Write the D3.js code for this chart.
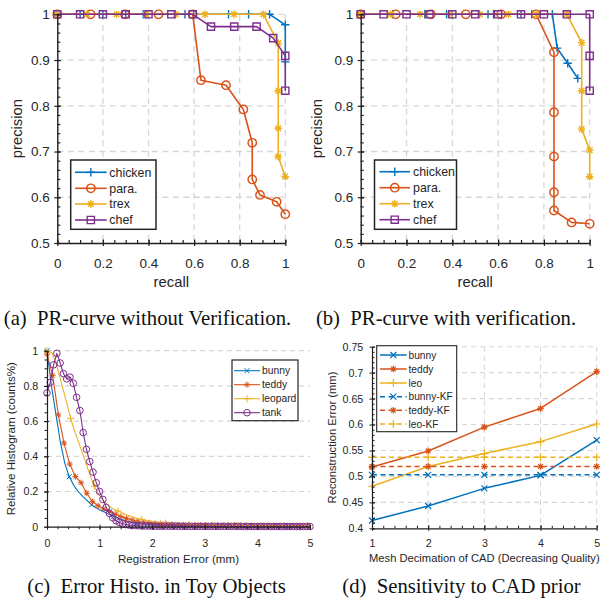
<!DOCTYPE html>
<html><head><meta charset="utf-8">
<script src="https://cdn.jsdelivr.net/npm/d3@7"></script>
<style>body{margin:0;background:#fff}svg{display:block}</style>
</head><body>
<svg id="chart" width="600" height="602"></svg>
<script>
// ---------------- DATA ----------------
// (a) PR-curve without verification
const prNames = ["chicken", "para.", "trex", "chef"];
const chickenA_recall = [0, 0.1, 0.2, 0.3, 0.377, 0.392, 0.516, 0.56, 0.598, 0.751, 0.839, 0.931, 1.0, 1.0];
const chickenA_prec   = [1, 1, 1, 1, 1, 1, 1, 1, 1, 1, 1, 1, 0.977, 0.896];
const paraA_recall = [0, 0.146, 0.297, 0.444, 0.594, 0.63, 0.74, 0.816, 0.855, 0.855, 0.889, 0.962, 1.0];
const paraA_prec   = [1, 1, 1, 1, 1, 0.856, 0.845, 0.792, 0.719, 0.639, 0.605, 0.590, 0.563];
const trexA_recall = [0, 0.13, 0.26, 0.39, 0.52, 0.648, 0.775, 0.904, 0.969, 0.969, 0.969, 0.969, 1.0];
const trexA_prec   = [1, 1, 1, 1, 1, 1, 1, 1, 0.937, 0.833, 0.751, 0.689, 0.645];
const chefA_recall = [0, 0.1, 0.2, 0.3, 0.4, 0.5, 0.594, 0.674, 0.776, 0.874, 0.947, 1.0, 1.0];
const chefA_prec   = [1, 1, 1, 1, 1, 1, 1, 0.973, 0.973, 0.973, 0.948, 0.909, 0.833];

// (b) PR-curve with verification
const chickenB_recall = [0, 0.14, 0.28, 0.375, 0.4, 0.556, 0.58, 0.7, 0.747, 0.837, 0.858, 0.904, 0.948];
const chickenB_prec   = [1, 1, 1, 1, 1, 1, 1, 1, 1, 1, 0.926, 0.893, 0.860];
const paraB_recall = [0, 0.153, 0.306, 0.459, 0.613, 0.766, 0.844, 0.844, 0.844, 0.844, 0.844, 0.921, 1.0];
const paraB_prec   = [1, 1, 1, 1, 1, 1, 0.917, 0.786, 0.689, 0.611, 0.571, 0.545, 0.542];
const trexB_recall = [0, 0.131, 0.259, 0.39, 0.52, 0.645, 0.77, 0.9, 0.965, 0.965, 0.965, 1.0, 1.0];
const trexB_prec   = [1, 1, 1, 1, 1, 1, 1, 1, 0.938, 0.833, 0.749, 0.703, 0.645];
const chefB_recall = [0, 0.1, 0.2, 0.3, 0.4, 0.5, 0.6, 0.7, 0.8, 0.9, 1.0, 1.0, 1.0];
const chefB_prec   = [1, 1, 1, 1, 1, 1, 1, 1, 1, 1, 1, 0.909, 0.833];

const prTicksX = [0, 0.2, 0.4, 0.6, 0.8, 1];
const prTicksY = [0.5, 0.6, 0.7, 0.8, 0.9, 1];

// (c) Error histogram in toy objects (bin width per object, values per bin)
const histNames = ["bunny", "teddy", "leopard", "tank"];
const bunnyBin = 5 / 59;
const bunnyHist = [1.00,0.80,0.64,0.48,0.36,0.284,0.235,0.20,0.172,0.148,
  0.125,0.108,0.094,0.082,0.070,0.059,0.049,0.040,0.032,0.026,
  0.021,0.017,0.014,0.012,0.011,0.010,0.009,0.009,0.008,0.008,
  0.007,0.007,0.007,0.006,0.006,0.006,0.006,0.005,0.005,0.005,
  0.005,0.005,0.004,0.004,0.004,0.004,0.004,0.004,0.004,0.003,
  0.003,0.003,0.003,0.003,0.003,0.003,0.003,0.003,0.003,0.003];
const teddyBin = 0.108;
const teddyHist = [0.98,0.86,0.635,0.475,0.356,0.285,0.25,0.19,0.142,0.119,
  0.10,0.087,0.072,0.058,0.047,0.038,0.031,0.026,0.022,0.019,
  0.017,0.015,0.013,0.012,0.011,0.010,0.010,0.009,0.009,0.008,
  0.008,0.008,0.007,0.007,0.007,0.007,0.006,0.006,0.006,0.006,
  0.006,0.005,0.005,0.005,0.005,0.005,0.005];
const leopardBin = 0.09;
const leopardHist = [1.00,0.99,0.92,0.82,0.72,0.615,0.53,0.455,0.38,0.30,
  0.23,0.18,0.145,0.12,0.10,0.089,0.076,0.065,0.056,0.048,
  0.042,0.036,0.031,0.027,0.024,0.021,0.019,0.017,0.015,0.014,
  0.013,0.012,0.011,0.010,0.010,0.009,0.009,0.008,0.008,0.008,
  0.007,0.007,0.007,0.006,0.006,0.006,0.006,0.006,0.005,0.005,
  0.005,0.005,0.005,0.005,0.005,0.005];
const tankBin = 0.0625;
const tankHist = [0.76,0.82,0.92,0.985,0.93,0.87,0.84,0.85,0.815,0.735,
  0.66,0.535,0.44,0.37,0.31,0.25,0.20,0.155,0.11,0.075,
  0.05,0.034,0.024,0.017,0.012,0.009,0.007,0.006,0.005,0.004,
  0.004,0.004,0.003,0.003,0.003,0.003,0.003,0.003,0.003,0.003,
  0.002,0.002,0.002,0.002,0.002,0.002,0.002,0.002,0.002,0.002,
  0.002,0.002,0.002,0.002,0.002,0.002,0.002,0.002,0.002,0.002,
  0.001,0.001,0.001,0.001,0.001,0.001,0.001,0.001,0.001,0.001,
  0.001,0.001,0.001,0.001,0.001,0.001,0.001,0.001,0.001,0.001,
  0.001];
const histTicksX = [0, 1, 2, 3, 4, 5];
const histTicksY = [0, 0.2, 0.4, 0.6, 0.8, 1];

// (d) Sensitivity to CAD prior
const cadNames = ["bunny", "teddy", "leo", "bunny-KF", "teddy-KF", "leo-KF"];
const decimation = [1, 2, 3, 4, 5];
const bunnyErr   = [0.415, 0.443, 0.477, 0.502, 0.570];
const teddyErr   = [0.518, 0.549, 0.595, 0.631, 0.702];
const leoErr     = [0.481, 0.519, 0.544, 0.567, 0.601];
const bunnyKFErr = [0.503, 0.503, 0.503, 0.503, 0.503];
const teddyKFErr = [0.519, 0.519, 0.519, 0.519, 0.519];
const leoKFErr   = [0.537, 0.537, 0.537, 0.537, 0.537];
const cadTicksX = [1, 2, 3, 4, 5];
const cadTicksY = [0.4, 0.45, 0.5, 0.55, 0.6, 0.65, 0.7, 0.75];

const captions = ["(a)\u2002PR-curve without Verification.", "(b)\u2002PR-curve with verification.",
                  "(c)\u2002Error Histo. in Toy Objects", "(d)\u2002Sensitivity to CAD prior"];

// ---------------- STYLE ----------------
const C = {blue: "#0072BD", orange: "#D95319", yellow: "#EDB120", purple: "#7E2F8E"};
const SANS = "'Liberation Sans', Arial, Helvetica, sans-serif";
const SERIF = "'Liberation Serif', 'Times New Roman', serif";
const GRID = "#d6d6d6";
const AXIS = "#1f1f1f";

const svg = d3.select("#chart");

function sym(type, r) {
  switch (type) {
    case "plus": return `M${-r},0H${r}M0,${-r}V${r}`;
    case "x": return `M${-r},${-r}L${r},${r}M${-r},${r}L${r},${-r}`;
    case "star": { const d = r * 0.72; return `M${-r},0H${r}M0,${-r}V${r}M${-d},${-d}L${d},${d}M${-d},${d}L${d},${-d}`; }
    case "circle": return `M${r},0A${r},${r} 0 1,1 ${-r},0A${r},${r} 0 1,1 ${r},0Z`;
    case "square": return `M${-r},${-r}H${r}V${r}H${-r}Z`;
  }
}
const range = (a, b, s) => d3.range(Math.round((b - a) / s) + 1).map(i => +(a + i * s).toFixed(4));
const fmt = d => String(+d.toFixed(2));

function drawPanel(P) {
  const g = svg.append("g");
  const x = d3.scaleLinear().domain(P.xDomain).range([P.l, P.r]);
  const y = d3.scaleLinear().domain(P.yDomain).range([P.b, P.t]);

  // grid
  g.selectAll(null).data(P.xGrid).join("line")
    .attr("x1", d => x(d)).attr("x2", d => x(d)).attr("y1", P.t).attr("y2", P.b)
    .attr("stroke", GRID).attr("stroke-width", P.gridW).attr("stroke-dasharray", P.gridDash);
  g.selectAll(null).data(P.yGrid).join("line")
    .attr("y1", d => y(d)).attr("y2", d => y(d)).attr("x1", P.l).attr("x2", P.r)
    .attr("stroke", GRID).attr("stroke-width", P.gridW).attr("stroke-dasharray", P.gridDash);

  // series
  P.series.forEach(s => {
    const pts = s.x.map((v, i) => [v, s.y[i]]);
    g.append("path")
      .attr("d", d3.line().x(d => x(d[0])).y(d => y(d[1]))(pts))
      .attr("fill", "none").attr("stroke", s.color).attr("stroke-width", P.lineW)
      .attr("stroke-dasharray", s.dash || null).attr("stroke-linejoin", "round");
    const every = s.every || 1;
    g.selectAll(null).data(pts.filter((d, i) => i % every === 0)).join("path")
      .attr("transform", d => `translate(${x(d[0])},${y(d[1])})`)
      .attr("d", sym(s.marker, P.mr[s.marker]))
      .attr("fill", "none").attr("stroke", s.color).attr("stroke-width", P.markW);
  });

  // axes
  const xa = g.append("g").attr("transform", `translate(0,${P.b})`);
  xa.call(d3.axisBottom(x).tickValues(P.xTicks).tickSizeInner(P.majOut).tickSizeOuter(0)
    .tickPadding(P.xLabOff - P.majOut - 0.71 * P.tickFs).tickFormat(fmt));
  xa.append("g").call(d3.axisBottom(x).tickValues(P.xTicks).tickSize(-P.majIn).tickFormat(""))
    .select(".domain").remove();
  xa.append("g").call(d3.axisBottom(x).tickValues(P.xMinor).tickSize(P.minorIn ? -P.minLen : P.minLen).tickFormat(""))
    .select(".domain").remove();
  const ya = g.append("g").attr("transform", `translate(${P.l},0)`);
  ya.call(d3.axisLeft(y).tickValues(P.yTicks).tickSizeInner(P.majOut).tickSizeOuter(0)
    .tickPadding(P.yLabOff - P.majOut).tickFormat(fmt));
  ya.append("g").call(d3.axisLeft(y).tickValues(P.yTicks).tickSize(-P.majIn).tickFormat(""))
    .select(".domain").remove();
  ya.append("g").call(d3.axisLeft(y).tickValues(P.yMinor).tickSize(P.minorIn ? -P.minLen : P.minLen).tickFormat(""))
    .select(".domain").remove();
  [xa, ya].forEach(a => {
    a.selectAll("path.domain").attr("stroke", AXIS).attr("stroke-width", P.axisW);
    a.selectAll("line").attr("stroke", AXIS).attr("stroke-width", P.axisW * 0.85);
    a.selectAll("text").attr("font-family", SANS).attr("font-size", P.tickFs).attr("fill", "#262626");
  });

  // axis labels
  g.append("text").attr("x", (P.l + P.r) / 2).attr("y", P.xTitleY).attr("text-anchor", "middle")
    .attr("font-family", SANS).attr("font-size", P.labFs).attr("fill", "#262626").text(P.xTitle);
  g.append("text").attr("transform", `translate(${P.yTitleX},${(P.t + P.b) / 2}) rotate(-90)`)
    .attr("text-anchor", "middle").attr("font-family", SANS).attr("font-size", P.labFs)
    .attr("fill", "#262626").text(P.yTitle);

  // legend
  const L = P.legend;
  const lg = g.append("g");
  lg.append("rect").attr("x", L.x0).attr("y", L.y0).attr("width", L.x1 - L.x0).attr("height", L.y1 - L.y0)
    .attr("fill", "#fff").attr("stroke", L.stroke).attr("stroke-width", L.sw);
  P.series.forEach((s, i) => {
    const yy = L.rows[i];
    lg.append("line").attr("x1", L.lx0).attr("x2", L.lx1).attr("y1", yy).attr("y2", yy)
      .attr("stroke", s.color).attr("stroke-width", P.lineW).attr("stroke-dasharray", s.dash || null);
    lg.append("path").attr("transform", `translate(${(L.lx0 + L.lx1) / 2},${yy})`)
      .attr("d", sym(s.marker, P.mr[s.marker])).attr("fill", "none")
      .attr("stroke", s.color).attr("stroke-width", P.markW);
    lg.append("text").attr("x", L.tx).attr("y", yy).attr("dy", "0.35em")
      .attr("font-family", SANS).attr("font-size", L.fs).attr("fill", "#262626").text(s.name);
  });

  // caption
  svg.append("text").attr("x", P.capX).attr("y", P.capY).attr("text-anchor", "middle")
    .attr("font-family", SERIF).attr("font-size", 20.7).attr("fill", "#111").text(P.caption);
}

const prCommon = {
  xDomain: [0, 1], yDomain: [0.5, 1],
  xTicks: prTicksX, yTicks: prTicksY,
  xMinor: range(0, 1, 0.05), yMinor: range(0.5, 1, 0.02),
  xGrid: [0.2, 0.4, 0.6, 0.8, 1], yGrid: [0.6, 0.7, 0.8, 0.9, 1],
  gridW: 1.3, gridDash: "6,4.5", lineW: 1.6, markW: 1.4,
  mr: {plus: 4.2, circle: 4.2, star: 3.9, square: 3.6},
  axisW: 1.4, majOut: 3, majIn: 3.5, minLen: 3, minorIn: true,
  tickFs: 13.5, labFs: 14.8, xLabOff: 25, yLabOff: 7.5,
  xTitle: "recall", yTitle: "precision", xTitleY: 287, capY: 325
};

function prSeries(d) {
  return [
    {name: prNames[0], x: d[0], y: d[1], color: C.blue, marker: "plus"},
    {name: prNames[1], x: d[2], y: d[3], color: C.orange, marker: "circle"},
    {name: prNames[2], x: d[4], y: d[5], color: C.yellow, marker: "star"},
    {name: prNames[3], x: d[6], y: d[7], color: C.purple, marker: "square"}
  ];
}

drawPanel(Object.assign({}, prCommon, {
  l: 57.3, r: 285.3, t: 14.3, b: 243, yTitleX: 22, capX: 147.5, caption: captions[0],
  series: prSeries([chickenA_recall, chickenA_prec, paraA_recall, paraA_prec, trexA_recall, trexA_prec, chefA_recall, chefA_prec]),
  legend: {x0: 70.7, x1: 156, y0: 160, y1: 229.3, rows: [172.3, 188.3, 204, 220], lx0: 75, lx1: 106.7, tx: 109.3, fs: 12.4, stroke: "#262626", sw: 1.5}
}));

drawPanel(Object.assign({}, prCommon, {
  l: 360.7, r: 589.7, t: 14.3, b: 243, yTitleX: 322, capX: 446, caption: captions[1],
  series: prSeries([chickenB_recall, chickenB_prec, paraB_recall, paraB_prec, trexB_recall, trexB_prec, chefB_recall, chefB_prec]),
  legend: {x0: 374.5, x1: 456.5, y0: 160, y1: 229.3, rows: [171.7, 187.7, 203.7, 219.7], lx0: 379.5, lx1: 410, tx: 413, fs: 12.4, stroke: "#262626", sw: 1.5}
}));

const binX = (vals, step) => vals.map((v, i) => i * step);

drawPanel({
  l: 47, r: 310, t: 350.7, b: 526.7,
  xDomain: [0, 5], yDomain: [0, 1], xTicks: histTicksX, yTicks: histTicksY,
  xMinor: range(0, 5, 0.2), yMinor: range(0, 1, 0.05),
  xGrid: [], yGrid: [0.2, 0.4, 0.6, 0.8, 1],
  gridW: 1.2, gridDash: "5,4", lineW: 1.1, markW: 1.0,
  mr: {x: 2.5, star: 3.0, plus: 3.5, circle: 3.3},
  axisW: 1.2, majOut: 3, majIn: 2, minLen: 2.5, minorIn: false,
  tickFs: 10.7, labFs: 11.6, xLabOff: 20.3, yLabOff: 8.7,
  xTitle: "Registration Error (mm)", yTitle: "Relative Histogram (counts%)", xTitleY: 563, yTitleX: 14.5,
  capX: 156.5, capY: 593, caption: captions[2],
  series: [
    {name: histNames[0], x: binX(bunnyHist, bunnyBin), y: bunnyHist, color: C.blue, marker: "x", every: 5},
    {name: histNames[1], x: binX(teddyHist, teddyBin), y: teddyHist, color: C.orange, marker: "star"},
    {name: histNames[2], x: binX(leopardHist, leopardBin), y: leopardHist, color: C.yellow, marker: "plus", every: 5},
    {name: histNames[3], x: binX(tankHist, tankBin), y: tankHist, color: C.purple, marker: "circle"}
  ],
  legend: {x0: 232, x1: 298, y0: 360, y1: 420.7, rows: [370.7, 384.7, 398.7, 412.7], lx0: 234, lx1: 260, tx: 262, fs: 10.3, stroke: "#262626", sw: 1.2}
});

drawPanel({
  l: 372, r: 596.7, t: 346.7, b: 528.3,
  xDomain: [1, 5], yDomain: [0.4, 0.75], xTicks: cadTicksX, yTicks: cadTicksY,
  xMinor: range(1, 5, 0.2), yMinor: range(0.4, 0.75, 0.01),
  xGrid: [2, 3, 4, 5], yGrid: [0.45, 0.5, 0.55, 0.6, 0.65, 0.7, 0.75],
  gridW: 1.1, gridDash: "5,4", lineW: 1.5, markW: 1.2,
  mr: {x: 3, star: 3.3, plus: 4},
  axisW: 1.2, majOut: 2.5, majIn: 3, minLen: 2.5, minorIn: true,
  tickFs: 10.7, labFs: 11.2, xLabOff: 19, yLabOff: 8.7,
  xTitle: "Mesh Decimation of CAD (Decreasing Quality)", yTitle: "Reconstruction Error (mm)", xTitleY: 562, yTitleX: 336,
  capX: 461.5, capY: 593, caption: captions[3],
  series: [
    {name: cadNames[0], x: decimation, y: bunnyErr, color: C.blue, marker: "x"},
    {name: cadNames[1], x: decimation, y: teddyErr, color: C.orange, marker: "star"},
    {name: cadNames[2], x: decimation, y: leoErr, color: C.yellow, marker: "plus"},
    {name: cadNames[3], x: decimation, y: bunnyKFErr, color: C.blue, marker: "x", dash: "5,3.5"},
    {name: cadNames[4], x: decimation, y: teddyKFErr, color: C.orange, marker: "star", dash: "5,3.5"},
    {name: cadNames[5], x: decimation, y: leoKFErr, color: C.yellow, marker: "plus", dash: "5,3.5"}
  ],
  legend: {x0: 376.7, x1: 456.7, y0: 345.7, y1: 431.7, rows: [355, 369, 383, 396.7, 410.3, 424], lx0: 380, lx1: 406.7, tx: 408.5, fs: 10.2, stroke: "#262626", sw: 1.1}
});
</script>
</body></html>
